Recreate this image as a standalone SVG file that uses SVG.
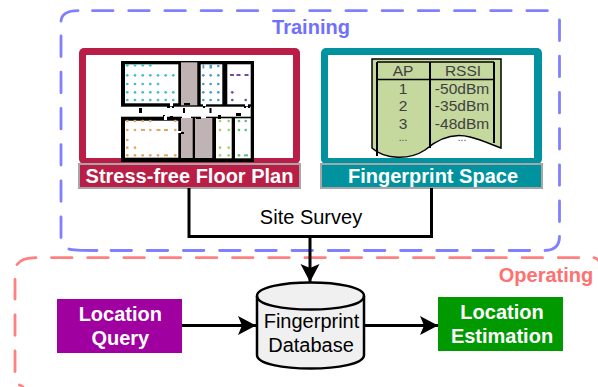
<svg xmlns="http://www.w3.org/2000/svg" width="598" height="387" viewBox="0 0 598 387">
<style>
text{font-family:"Liberation Sans",Arial,sans-serif;text-anchor:middle}
.b{font-weight:bold;font-size:20px}
.w{fill:#fff;font-weight:bold;font-size:20px}
.dash{fill:none;stroke-width:2.800;stroke-dasharray:20.500 15.700;stroke-linecap:round}
.bar{stroke:#a6a6a6;stroke-width:2}
.wall{fill:#000}
.gray{fill:#bfb3b3}
.room{fill:#fff}
.t{fill:#404040;font-size:15.500px}
.e{fill:#404040;font-size:10px}
.d{font-size:20px}
.conn{fill:none;stroke:#000;stroke-width:3}
circle{stroke:none;r:1.350px}
</style>
<defs>
<marker id="arrow" markerUnits="userSpaceOnUse" markerWidth="20" markerHeight="20" refX="18" refY="9.500" orient="auto"><path d="M0 0L18 9.500L0 19L4 9.500Z" fill="#000"/></marker>
</defs>
<g id="training-boundary">
<path class="dash" d="M61 237.500V36M92.500 10.700H549M559.500 20V223M111 250.500H530" stroke="#8080ff"/>
<path class="dash" style="stroke-dasharray:none" d="M61 21Q62 10.700 78 10.700M545 250.500Q559.500 250 559.500 236.500M69 249Q72 250.500 97 250.500" stroke="#8080ff"/>
<text class="b" x="311" y="34" fill="#7070ff">Training</text>
</g>
<g id="operating-boundary">
<path class="dash" d="M15 371.500V279.500M51.500 257.700H580" stroke="#ff8080"/>
<path class="dash" style="stroke-dasharray:none" d="M17 264.500Q22 257.700 36 257.700M594 257.700Q597 258.500 599 261M19.500 385Q21 385.500 23 387" stroke="#ff8080"/>
<text class="b" x="546" y="282" fill="#ff7070">Operating</text>
</g>
<g id="floor-plan">
<rect x="79" y="48" width="221" height="116" rx="5" fill="#b81e46"/>
<rect x="86" y="55" width="207" height="103" fill="#fff"/>
<rect class="wall" x="121" y="61" width="133" height="101"/>
<rect class="room" x="125" y="64.300" width="53.300" height="39"/>
<rect class="gray" x="181" y="62.300" width="16.300" height="43"/>
<rect class="room" x="200.700" y="64.300" width="21.600" height="40"/>
<rect class="room" x="227.300" y="64.300" width="23.400" height="40"/>
<rect class="room" x="121" y="106.700" width="129.700" height="10"/>
<rect class="room" x="125" y="120.700" width="53.300" height="37"/>
<rect class="gray" x="181" y="118" width="11.700" height="40"/>
<rect class="gray" x="195" y="118" width="17.300" height="40"/>
<rect class="room" x="216" y="118.300" width="15.700" height="40"/>
<rect class="room" x="235" y="118.300" width="15.700" height="40"/>
<path class="wall" d="M139 108h3v5h-3zM167 105h3v3h-3zM172 105h2v3h-2zM184 103h6v2h-6zM183 108h2v5h-2zM203 105h2v3h-2zM209.500 108h2v5h-2zM163 115h2v4h-2zM170 116h3v4h-3zM218 115h3v4h-3zM236 113h5v3h-5zM196 117h5v2h-5zM181 132h3v2h-3zM244 105h2v3h-2zM248 105h2v3h-2z"/>
<path class="room" d="M170 103h3v3h-3zM203 103h3v3h-3zM245 103h3v3h-3zM182 115h9v3h-9zM164 116h3v4h-3zM201 116h5v2h-5zM178 131h3v2h-3z"/>
<g fill="#3fbfc5">
<circle cx="127.300" cy="65.300"/><circle cx="135" cy="65.300"/><circle cx="142.700" cy="65.300"/><circle cx="150.300" cy="65.300"/>
<circle cx="127.300" cy="75.300"/><circle cx="135" cy="75.300"/><circle cx="142.700" cy="75.300"/><circle cx="150.300" cy="75.300"/><circle cx="158" cy="75.300"/><circle cx="165.700" cy="75.300"/><circle cx="173.300" cy="75.300"/>
<circle cx="127.300" cy="84"/><circle cx="135" cy="84"/><circle cx="142.700" cy="84"/><circle cx="150.300" cy="84"/><circle cx="158" cy="84"/>
<circle cx="127.300" cy="92.300"/><circle cx="135" cy="92.300"/><circle cx="142.700" cy="92.300"/><circle cx="150.300" cy="92.300"/><circle cx="158" cy="92.300"/><circle cx="165.700" cy="92.300"/><circle cx="173.300" cy="92.300"/>
<circle cx="127.300" cy="100"/><circle cx="135" cy="100"/><circle cx="142.700" cy="100"/><circle cx="150.300" cy="100"/><circle cx="158" cy="100"/><circle cx="165.700" cy="100"/><circle cx="173.300" cy="100"/>
</g>
<g fill="#4a9fc8">
<rect x="202.500" y="64.500" width="1.800" height="4"/><rect x="209.500" y="64.500" width="2.500" height="4"/><circle cx="218.300" cy="66"/>
<circle cx="203.300" cy="75.300"/><circle cx="210.700" cy="75.300"/><circle cx="218.300" cy="75.300"/>
<circle cx="203.300" cy="84"/><circle cx="210.700" cy="84"/><circle cx="218.300" cy="84"/>
<circle cx="203.300" cy="92.300"/><circle cx="210.700" cy="92.300"/><circle cx="218.300" cy="92.300"/>
<circle cx="203.300" cy="100"/><circle cx="210.700" cy="100"/><circle cx="218.300" cy="100"/>
</g>
<g fill="#7a4a9e">
<rect x="230" y="74" width="4" height="2"/><rect x="236.500" y="74" width="4" height="2"/><rect x="244.500" y="74" width="4" height="2"/>
<circle cx="232.300" cy="92.300"/><circle cx="232.300" cy="100"/><circle cx="245.700" cy="100"/>
</g>
<g fill="#e0a860">
<circle cx="127.300" cy="121"/><circle cx="135" cy="121"/><circle cx="142.700" cy="121"/><circle cx="150.300" cy="121"/><circle cx="175.300" cy="121"/>
<circle cx="127.300" cy="130"/><circle cx="135" cy="130"/><rect x="141" y="129" width="4" height="2"/><circle cx="150.300" cy="130"/><rect x="156.500" y="129" width="4" height="2"/><rect x="164" y="129" width="4" height="2"/><circle cx="175.300" cy="130"/>
<circle cx="127.300" cy="140"/>
<circle cx="127.300" cy="147.700"/><circle cx="135" cy="147.700"/>
<circle cx="127.300" cy="155.300"/><circle cx="135" cy="155.300"/><circle cx="142.700" cy="155.300"/><circle cx="150.300" cy="155.300"/><circle cx="158" cy="155.300"/><rect x="164" y="154.300" width="4" height="2"/><circle cx="175.300" cy="155.300"/>
</g>
<g fill="#a5cf6a">
<circle cx="220" cy="121"/><circle cx="228.700" cy="121"/><circle cx="220" cy="130"/><circle cx="228.700" cy="130"/><circle cx="220" cy="147.700"/><circle cx="228.700" cy="147.700"/><circle cx="220" cy="155.300"/><circle cx="228.700" cy="155.300"/>
</g>
<g fill="#5fbf7f">
<circle cx="239" cy="121"/><circle cx="245.700" cy="121"/><circle cx="239" cy="130"/><circle cx="245.700" cy="130"/><circle cx="239" cy="155.300"/><rect x="244" y="154.300" width="4" height="2"/>
</g>
<rect class="bar" x="79" y="164" width="221" height="24" fill="#b81e46"/>
<text class="w" x="189.500" y="183">Stress-free Floor Plan</text>
</g>
<g id="fingerprint-space">
<rect x="321" y="48" width="221" height="116" rx="5" fill="#00939f"/>
<rect x="328" y="55" width="206" height="103" fill="#fff"/>
<path d="M372 59H501V148C490 144 482 140 470 137C455 133 440 137 425 150C410 160 385 160 372 148Z" fill="#c5d89d" stroke="#000" stroke-width="1.500"/>
<path d="M377 62H494M377 79.500H494" stroke="#000" stroke-width="1.500" fill="none"/>
<path d="M377 62V156M430 62V148M494 62V143" stroke="#000" stroke-width="2" fill="none"/>
<text class="t" x="403" y="76">AP</text><text class="t" x="463" y="76">RSSI</text>
<text class="t" x="403" y="93.500">1</text><text class="t" x="462" y="93.500">-50dBm</text>
<text class="t" x="403" y="111">2</text><text class="t" x="462" y="111">-35dBm</text>
<text class="t" x="403" y="128.500">3</text><text class="t" x="462" y="128.500">-48dBm</text>
<text class="e" x="403" y="141">...</text><text class="e" x="462" y="141">...</text>
<rect class="bar" x="321" y="164" width="221" height="24" fill="#00939f"/>
<text class="w" x="433" y="183">Fingerprint Space</text>
</g>
<g id="connectors">
<path class="conn" d="M189 188V236.500H431.500V188"/>
<path class="conn" d="M310 236.500V282" marker-end="url(#arrow)"/>
<path class="conn" d="M181 325.500H256" marker-end="url(#arrow)"/>
<path class="conn" d="M364 325.500H438" marker-end="url(#arrow)"/>
</g>
<text class="d" x="311" y="224">Site Survey</text>
<g id="location-query">
<rect x="57" y="299" width="125" height="54" fill="#a000a0"/>
<text class="w" x="120.300" y="321">Location</text>
<text class="w" x="120.300" y="345">Query</text>
</g>
<g id="fingerprint-database">
<path d="M257 296C257 278 364 278 364 296V355C364 373 257 373 257 355Z" fill="#f0f0f0" stroke="#000" stroke-width="2.500"/>
<path d="M257 296C257 314 364 314 364 296" fill="none" stroke="#000" stroke-width="2.500"/>
<text class="d" x="311.500" y="328">Fingerprint</text>
<text class="d" x="311" y="352">Database</text>
</g>
<g id="location-estimation">
<rect x="438" y="297" width="125" height="54" fill="#009a00"/>
<text class="w" x="502" y="319">Location</text>
<text class="w" x="502" y="343">Estimation</text>
</g>
</svg>
